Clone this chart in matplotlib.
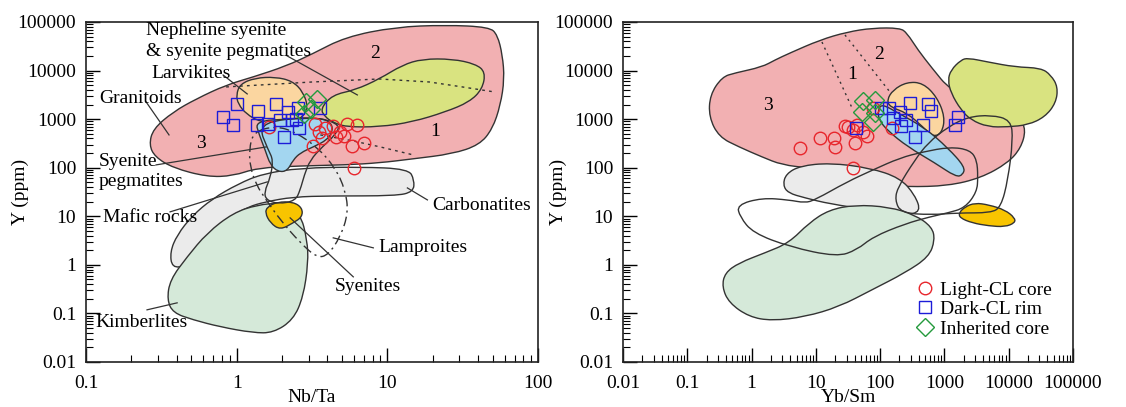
import numpy as np
import matplotlib.pyplot as plt
from matplotlib.path import Path
from matplotlib.patches import PathPatch
from matplotlib.lines import Line2D
from matplotlib.ticker import LogLocator, FuncFormatter, NullFormatter

plt.rcParams['font.family'] = ['Liberation Serif', 'DejaVu Serif']
plt.rcParams['font.size'] = 14

# ---------------- field outlines, log10 units (x, y) ----------------
# left diagram: Nb/Ta vs Y
granitoid_l = [(-0.581, 2.469), (-0.555, 2.798), (-0.422, 3.148), (-0.269, 3.416), (-0.070, 3.704),
               (0.110, 3.868), (0.329, 4.095), (0.502, 4.342), (0.721, 4.691), (1.053, 4.897),
               (1.385, 4.938), (1.678, 4.897), (1.731, 4.733), (1.764, 4.321), (1.777, 3.827),
               (1.751, 3.292), (1.698, 2.798), (1.611, 2.469), (1.432, 2.284), (1.166, 2.181),
               (0.947, 2.099), (0.721, 2.058), (0.422, 2.037), (0.136, 1.996), (-0.023, 1.831),
               (-0.196, 1.811), (-0.422, 1.996), (-0.542, 2.222)]
nephsy_l = [(0.555, 3.210), (0.635, 3.498), (0.787, 3.601), (0.947, 3.827), (1.100, 4.115),
            (1.233, 4.239), (1.432, 4.239), (1.585, 4.136), (1.651, 3.971), (1.631, 3.621),
            (1.545, 3.354), (1.385, 3.148), (1.166, 2.942), (0.947, 2.840), (0.721, 2.840),
            (0.635, 2.942), (0.588, 3.045)]
larvik_l = [(-0.003, 3.498), (0.023, 3.724), (0.123, 3.848), (0.256, 3.868), (0.369, 3.786),
            (0.442, 3.560), (0.475, 3.230), (0.422, 2.984), (0.289, 2.922), (0.156, 2.942),
            (0.063, 3.107), (0.010, 3.313)]
sypeg_l = [(0.123, 2.963), (0.355, 3.004), (0.555, 3.025), (0.621, 2.942), (0.641, 2.778),
           (0.601, 2.572), (0.508, 2.428), (0.422, 2.305), (0.375, 2.160), (0.336, 1.934),
           (0.276, 1.914), (0.223, 2.058), (0.189, 2.366), (0.150, 2.675)]
carb_l = [(-0.429, -0.062), (-0.442, 0.267), (-0.395, 0.617), (-0.296, 1.008), (-0.163, 1.358),
          (0.010, 1.667), (0.169, 1.872), (0.422, 1.996), (0.821, 2.016), (1.140, 1.975),
          (1.179, 1.749), (1.173, 1.502), (1.053, 1.420), (0.621, 1.420), (0.375, 1.399),
          (0.189, 1.296), (0.076, 1.193), (-0.043, 0.988), (-0.163, 0.658), (-0.256, 0.309),
          (-0.336, -0.021)]
kimb_l = [(-0.462, -0.720), (-0.442, -0.309), (-0.329, 0.165), (-0.196, 0.658), (-0.023, 1.070),
          (0.136, 1.235), (0.289, 1.276), (0.422, 1.070), (0.468, 0.514), (0.475, 0.041),
          (0.442, -0.658), (0.375, -1.132), (0.243, -1.399), (0.110, -1.399), (-0.110, -1.276),
          (-0.289, -1.132), (-0.422, -0.988)]
syen_l = [(0.203, 1.193), (0.269, 1.296), (0.375, 1.296), (0.435, 1.173), (0.435, 0.988),
          (0.375, 0.864), (0.289, 0.720), (0.223, 0.864), (0.189, 1.070)]
lamp_l = [(0.110, 2.737), (0.083, 2.366), (0.090, 2.016), (0.130, 1.646), (0.196, 1.337),
          (0.289, 0.926), (0.422, 0.453), (0.535, 0.144), (0.608, 0.206), (0.688, 0.576),
          (0.741, 1.070), (0.721, 1.543), (0.654, 1.996), (0.541, 2.407), (0.389, 2.737),
          (0.256, 2.860)]
mafic_l = [(0.143, 2.881), (0.209, 2.366), (0.243, 2.160), (0.223, 1.790), (0.183, 1.502),
           (0.196, 1.337), (0.276, 1.255), (0.389, 1.317), (0.422, 1.543), (0.449, 1.852),
           (0.488, 2.160), (0.568, 2.428), (0.654, 2.675), (0.688, 2.881), (0.555, 3.025),
           (0.355, 3.025)]
dots_l = [[(-0.070, 3.663), (0.502, 3.765), (0.947, 3.827), (1.279, 3.765), (1.498, 3.663), (1.711, 3.560)],
          [(0.555, 2.675), (0.774, 2.551), (0.953, 2.428), (1.173, 2.263)]]

# right diagram: Yb/Sm vs Y
granitoid_r = [(-0.647, 3.498), (-0.460, 3.868), (-0.258, 3.951), (0.162, 4.074), (0.364, 4.218),
               (0.597, 4.362), (1.064, 4.630), (1.484, 4.794), (1.888, 4.877), (2.308, 4.877),
               (2.417, 4.774), (2.588, 4.424), (2.806, 4.053), (3.086, 3.601), (3.708, 3.189),
               (4.174, 3.025), (4.267, 2.778), (4.190, 2.407), (3.988, 2.099), (3.568, 1.790),
               (3.054, 1.626), (2.417, 1.605), (1.888, 1.646), (1.375, 1.872), (0.893, 1.996),
               (0.473, 2.058), (0.162, 2.222), (-0.196, 2.428), (-0.507, 2.634), (-0.663, 3.045)]
nephsy_r = [(3.101, 4.012), (3.257, 4.218), (3.365, 4.259), (3.676, 4.177), (4.096, 4.074),
            (4.501, 4.053), (4.656, 3.909), (4.765, 3.663), (4.734, 3.333), (4.563, 3.045),
            (4.299, 2.881), (3.988, 2.840), (3.676, 2.840), (3.412, 2.984), (3.257, 3.189),
            (3.101, 3.539), (3.054, 3.807)]
larvik_r = [(2.106, 3.395), (2.199, 3.601), (2.417, 3.765), (2.666, 3.745), (2.883, 3.457),
            (3.008, 3.045), (2.961, 2.716), (2.821, 2.634), (2.666, 2.840), (2.417, 3.128),
            (2.152, 3.251)]
sypeg_r = [(1.966, 3.189), (2.028, 3.313), (2.277, 3.128), (2.697, 2.819), (3.054, 2.407),
           (3.319, 2.016), (3.288, 1.852), (3.179, 1.811), (2.852, 2.099), (2.432, 2.428),
           (2.121, 2.757), (1.981, 2.984)]
carb_r = [(0.488, 1.646), (0.535, 1.872), (0.753, 2.037), (1.219, 2.099), (1.841, 1.996),
          (2.308, 1.790), (2.541, 1.440), (2.635, 1.091), (2.386, 1.029), (1.841, 1.132),
          (1.219, 1.255), (0.830, 1.379), (0.566, 1.481)]
kimb_r = [(-0.460, -0.453), (-0.414, -0.165), (-0.196, 0.041), (0.208, 0.247), (0.582, 0.453),
          (0.893, 0.864), (1.204, 1.132), (1.608, 1.235), (2.137, 1.193), (2.541, 1.029),
          (2.806, 0.782), (2.852, 0.514), (2.759, 0.165), (2.386, -0.165), (1.872, -0.514),
          (1.359, -0.864), (0.830, -1.070), (0.317, -1.152), (-0.040, -1.070), (-0.351, -0.782)]
syen_r = [(3.225, 1.070), (3.319, 1.193), (3.474, 1.276), (3.692, 1.235), (3.941, 1.132),
          (4.096, 0.967), (4.096, 0.864), (3.941, 0.782), (3.692, 0.802), (3.428, 0.864),
          (3.241, 0.967)]
mafic_r = [(-0.227, 1.235), (0.162, 1.379), (0.582, 1.337), (0.830, 1.276), (0.986, 1.337),
           (1.484, 1.708), (1.888, 1.955), (2.308, 2.202), (2.666, 2.325), (3.086, 2.428),
           (3.397, 2.366), (3.505, 2.160), (3.521, 1.811), (3.505, 1.502), (3.319, 1.173),
           (3.054, 1.070), (2.774, 0.988), (2.386, 0.844), (1.888, 0.576), (1.639, 0.309),
           (1.328, 0.165), (0.597, 0.370), (0.022, 0.658), (-0.180, 0.988)]
pegline_r = [(2.230, 1.337), (2.277, 1.605), (2.541, 2.160), (2.743, 2.510), (3.054, 2.840),
             (3.365, 3.045), (3.723, 3.086), (4.034, 2.984), (4.065, 2.572), (3.988, 1.749),
             (3.879, 1.193), (3.723, 1.070), (3.210, 1.070), (2.790, 1.029), (2.323, 1.070)]
dots_r = [[(1.095, 4.588), (1.577, 3.189)], [(1.453, 4.733), (2.152, 3.560)]]

# ---------------- zircon analyses ----------------
light_x_l = [1.64, 3.33, 3.53, 3.22, 3.87, 4.38, 4.88, 5.42, 6.32, 4.58, 5.18, 5.85, 7.03, 6.04, 3.70]
light_y_l = [692, 796, 546, 281, 659, 724, 546, 796, 760, 431, 451, 281, 324, 99, 410]
dark_x_l = [0.81, 1.01, 0.95, 1.39, 1.37, 1.62, 1.83, 2.20, 1.95, 2.56, 2.34, 2.48, 2.60, 2.07, 3.59]
dark_y_l = [1110, 2056, 760, 1476, 760, 796, 2056, 1406, 964, 1698, 964, 1009, 659, 431, 1698]
inh_x_l = [2.90, 3.43, 2.81, 3.13]
inh_y_l = [2260, 2610, 1280, 1620]

light_x_r = [5.66, 11.6, 19.1, 19.8, 40.6, 62.4, 31.6, 43.6, 37.8, 54.1, 77.3, 153, 37.8, 28.4]
light_y_r = [255, 410, 410, 268, 324, 451, 692, 760, 600, 546, 1700, 659, 99, 724]
dark_x_r = [42.1, 103, 137, 203, 290, 553, 617, 252, 210, 463, 348, 1622, 1455, 158]
dark_y_r = [659, 1700, 1700, 1406, 2153, 2056, 1476, 964, 724, 760, 431, 1109, 760, 1059]
inh_x_r = [54.1, 83.0, 52.1, 83.0, 77.3]
inh_y_r = [2366, 2483, 1406, 1343, 875]

# labels (log10 position) and leader lines for the left diagram
labels_l = [("Nepheline syenite", -0.601, 4.835), ("& syenite pegmatites", -0.601, 4.383),
            ("Larvikites", -0.568, 3.930), ("Granitoids", -0.914, 3.416),
            ("Syenite", -0.914, 2.119), ("pegmatites", -0.914, 1.708),
            ("Mafic rocks", -0.887, 0.967), ("Carbonatites", 1.299, 1.214),
            ("Lamproites", 0.940, 0.350), ("Syenites", 0.654, -0.453),
            ("Kimberlites", -0.940, -1.193)]
leaders_l = [[(0.336, 4.300), (0.801, 3.498)], [(-0.090, 3.909), (0.070, 3.519)],
             [(-0.601, 3.354), (-0.449, 2.675)], [(-0.535, 2.058), (0.196, 2.428)],
             [(-0.442, 1.091), (0.203, 1.708)], [(1.133, 1.584), (1.266, 1.337)],
             [(0.641, 0.556), (0.907, 0.350)], [(0.355, 0.967), (0.774, -0.247)],
             [(-0.595, -0.926), (-0.395, -0.782)]]
numbers_l = [("1", 1.319, 2.737), ("2", 0.920, 4.342), ("3", -0.236, 2.490)]
numbers_r = [("1", 1.561, 3.909), ("2", 1.981, 4.321), ("3", 0.255, 3.272)]

PINK = '#f2b0b2'
YG = '#d9e380'
ORANGE = '#fbd6a0'
BLUE = '#a3d6f0'
GREY = '#ebebeb'
GREEN = '#d5e9d9'
GOLD = '#f8c400'
EDGE = '#333333'


def field(ax, pts, fc, ls='-', z=1):
    p = np.array(pts, float)
    mid = (p + np.roll(p, -1, axis=0)) / 2
    verts = [mid[-1]]
    codes = [Path.MOVETO]
    for a, m in zip(p, mid):
        verts += [a, m]
        codes += [Path.CURVE3, Path.CURVE3]
    path = Path(10 ** np.array(verts), codes)
    ax.add_patch(PathPatch(path, facecolor=fc, edgecolor=EDGE, lw=1.0, ls=ls, zorder=z))


def seg(ax, pts, ls='-', lw=0.9):
    p = 10 ** np.array(pts, float)
    ax.plot(p[:, 0], p[:, 1], color=EDGE, lw=lw, ls=ls, zorder=4)


def setup(ax, xmin, xmax, xlabel):
    ax.set_xscale('log')
    ax.set_yscale('log')
    ax.set_xlim(xmin, xmax)
    ax.set_ylim(0.01, 1e5)
    fmt = FuncFormatter(lambda v, p: '%g' % v)
    for axis in (ax.xaxis, ax.yaxis):
        axis.set_major_locator(LogLocator(base=10, numticks=20))
        axis.set_minor_locator(LogLocator(base=10, subs=np.arange(2, 10), numticks=20))
        axis.set_major_formatter(fmt)
        axis.set_minor_formatter(NullFormatter())
    ax.tick_params(which='both', direction='in', top=False, right=False)
    ax.tick_params(which='major', length=10, width=1.0, labelsize=14, pad=7)
    ax.tick_params(which='minor', length=5, width=0.8)
    ax.tick_params(axis='x', which='major', pad=9)
    for s in ax.spines.values():
        s.set_linewidth(1.2)
        s.set_color('#222222')
    ax.set_xlabel(xlabel, fontsize=14, labelpad=-2)
    ax.set_ylabel('Y (ppm)', fontsize=14)
    ax.yaxis.set_label_coords(-0.125, 0.5)


def points(ax, lx, ly, dx, dy, ix, iy):
    ax.plot(lx, ly, 'o', ls='none', ms=9, mfc='none', mec='#e8262c', mew=1.0, zorder=6)
    ax.plot(dx, dy, 's', ls='none', ms=9, mfc='none', mec='#1c1cd8', mew=1.0, zorder=6)
    ax.plot(ix, iy, 'D', ls='none', ms=9, mfc='none', mec='#249a3c', mew=1.0, zorder=6)


fig = plt.figure(figsize=(11.26, 4.07), dpi=100)
ax1 = fig.add_axes([86 / 1126, 45 / 407, 452 / 1126, 340 / 407])
ax2 = fig.add_axes([623 / 1126, 45 / 407, 450 / 1126, 340 / 407])

# ---- left ----
setup(ax1, 0.1, 100, 'Nb/Ta')
field(ax1, granitoid_l, PINK, z=1)
field(ax1, nephsy_l, YG, z=2)
field(ax1, larvik_l, ORANGE, z=2)
field(ax1, carb_l, GREY, z=2)
field(ax1, sypeg_l, BLUE, z=3)
field(ax1, kimb_l, GREEN, z=3)
field(ax1, syen_l, GOLD, z=3.5)
field(ax1, mafic_l, 'none', z=4)
field(ax1, lamp_l, 'none', ls=(0, (7, 3, 1.5, 3)), z=4)
for d in dots_l:
    seg(ax1, d, ls=(0, (2, 3)), lw=1.0)
for l in leaders_l:
    seg(ax1, l)
for t, x, y in labels_l:
    ax1.text(10 ** x, 10 ** y, t, ha='left', va='center', fontsize=14, zorder=7)
for t, x, y in numbers_l:
    ax1.text(10 ** x, 10 ** y, t, ha='center', va='center', fontsize=14, zorder=7)
points(ax1, light_x_l, light_y_l, dark_x_l, dark_y_l, inh_x_l, inh_y_l)

# ---- right ----
setup(ax2, 0.01, 1e5, 'Yb/Sm')
field(ax2, granitoid_r, PINK, z=1)
field(ax2, nephsy_r, YG, z=2)
field(ax2, larvik_r, ORANGE, z=2)
field(ax2, carb_r, GREY, z=2)
field(ax2, sypeg_r, BLUE, z=3)
field(ax2, kimb_r, GREEN, z=3)
field(ax2, syen_r, GOLD, z=3.5)
field(ax2, mafic_r, 'none', z=4)
field(ax2, pegline_r, 'none', z=4)
for d in dots_r:
    seg(ax2, d, ls=(0, (1.5, 3)), lw=1.0)
for t, x, y in numbers_r:
    ax2.text(10 ** x, 10 ** y, t, ha='center', va='center', fontsize=14, zorder=7)
points(ax2, light_x_r, light_y_r, dark_x_r, dark_y_r, inh_x_r, inh_y_r)

handles = [Line2D([], [], marker='o', ls='none', ms=9, mfc='none', mec='#e8262c'),
           Line2D([], [], marker='s', ls='none', ms=9, mfc='none', mec='#1c1cd8'),
           Line2D([], [], marker='D', ls='none', ms=9, mfc='none', mec='#249a3c')]
ax2.legend(handles, ['Light-CL core', 'Dark-CL rim', 'Inherited core'], loc='upper left',
           bbox_to_anchor=(0.649, 0.238), frameon=False, fontsize=14, borderpad=0,
           borderaxespad=0, handlelength=1.0, handletextpad=0.3, labelspacing=0.1)

fig.savefig('out.png', dpi=100)
